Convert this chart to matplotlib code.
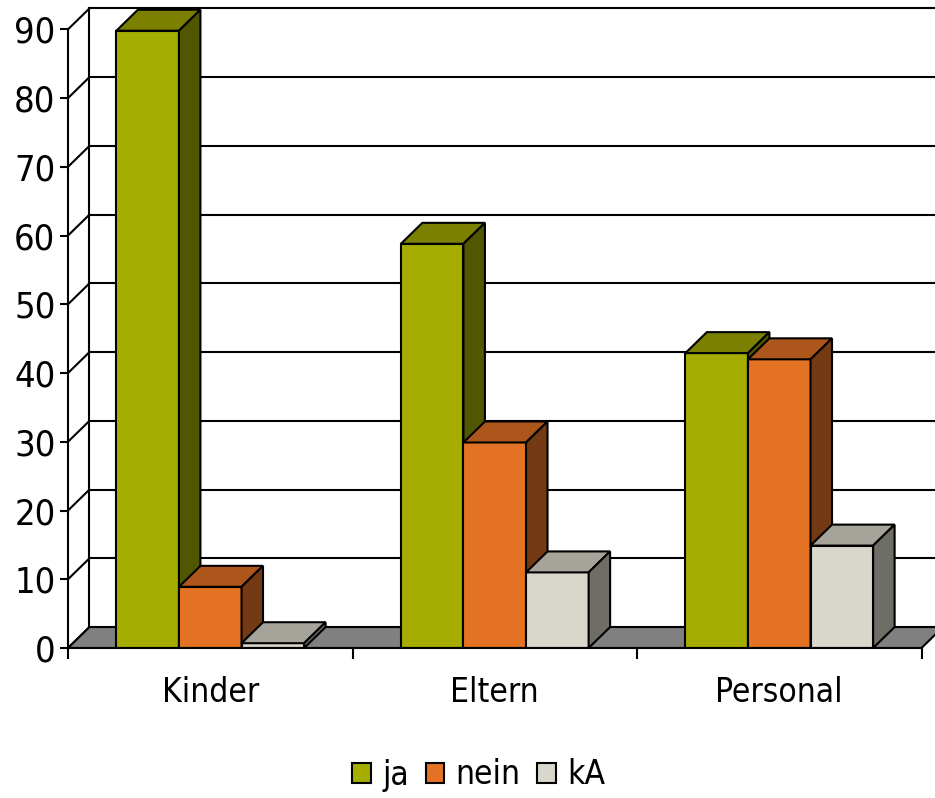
import matplotlib
matplotlib.use("Agg")
import matplotlib.pyplot as plt
from matplotlib.patches import Polygon, Patch

categories = ["Kinder", "Eltern", "Personal"]
series = ["ja", "nein", "kA"]
ja = [89.8, 58.8, 42.9]
nein = [8.9, 29.9, 42.0]
ka = [0.7, 11.0, 14.9]

# front / top / side colours of each series
colors = {
    "ja": ("#A5AE00", "#7B8000", "#515700"),
    "nein": ("#E37224", "#AD561B", "#733A13"),
    "kA": ("#D9D7CB", "#A5A39A", "#6E6E66"),
}

W, H = 935, 798
DX = 0.0755   # depth offset in category units
DY = 3.05     # depth offset in value units
BAR_W = 0.22
GROUP_OFF = 0.17
LW = 1.5

plt.rcParams["font.family"] = ["DejaVu Sans"]
plt.rcParams["font.stretch"] = "condensed"


def box(ax, x0, h, cols):
    front, top, side = cols
    x1 = x0 + BAR_W
    faces = [
        ([(x0, 0), (x1, 0), (x1, h), (x0, h)], front),
        ([(x0, h), (x1, h), (x1 + DX, h + DY), (x0 + DX, h + DY)], top),
        ([(x1, 0), (x1 + DX, DY), (x1 + DX, h + DY), (x1, h)], side),
    ]
    for pts, c in faces:
        ax.add_patch(Polygon(pts, closed=True, facecolor=c, edgecolor="black",
                             linewidth=LW, joinstyle="miter", zorder=5))


def main() -> None:
    fig = plt.figure(figsize=(W / 100, H / 100), dpi=100)
    ax = fig.add_axes([68 / W, 150 / H, (W - 68) / W, 648 / H])
    ax.set_xlim(0, (W - 68) / 284.5)
    ax.set_ylim(0, 648 / 6.874)

    ticks = list(range(0, 100, 10))

    # back wall gridlines and left wall
    for v in ticks:
        ax.plot([DX, 3.5], [v + DY, v + DY], color="black", lw=LW, zorder=1)
        ax.plot([0, DX], [v, v + DY], color="black", lw=LW, zorder=1)
    ax.plot([DX, DX], [DY, 90 + DY], color="black", lw=LW, zorder=1)

    # floor
    ax.add_patch(Polygon([(0, 0), (3, 0), (3 + DX, DY), (DX, DY)], closed=True,
                         facecolor="#808080", edgecolor="black", linewidth=LW,
                         zorder=2))

    values = {"ja": ja, "nein": nein, "kA": ka}
    for i in range(len(categories)):
        for j, s in enumerate(series):
            x0 = i + GROUP_OFF + j * BAR_W
            box(ax, x0, values[s][i], colors[s])

    for side in ["top", "right"]:
        ax.spines[side].set_visible(False)
    ax.spines["left"].set_bounds(0, 90)
    ax.spines["bottom"].set_bounds(0, 3)
    ax.spines["left"].set_linewidth(LW)
    ax.spines["bottom"].set_linewidth(LW)
    ax.spines["left"].set_zorder(6)
    ax.spines["bottom"].set_zorder(6)

    ax.set_yticks(ticks)
    ax.set_yticklabels([str(t) for t in ticks])
    ax.set_xticks([0, 1, 2, 3])
    ax.set_xticklabels([])
    ax.set_xticks([0.5, 1.5, 2.5], minor=True)
    ax.set_xticklabels(categories, minor=True)
    ax.tick_params(axis="y", length=6, width=LW, pad=3, labelsize=26)
    ax.tick_params(axis="x", which="major", length=8, width=LW)
    ax.tick_params(axis="x", which="minor", length=0, pad=20, labelsize=24)
    ax.patch.set_alpha(0)

    handles = [Patch(facecolor=colors[s][0], edgecolor="black", linewidth=LW)
               for s in series]
    fig.legend(handles, series, loc="center", bbox_to_anchor=(0.512, 1 - 775 / H),
               ncol=3, frameon=False, fontsize=24, handlelength=0.55,
               handleheight=0.55, handletextpad=0.35, columnspacing=0.5)

    fig.savefig("out.png", dpi=100)


if __name__ == "__main__":
    main()
